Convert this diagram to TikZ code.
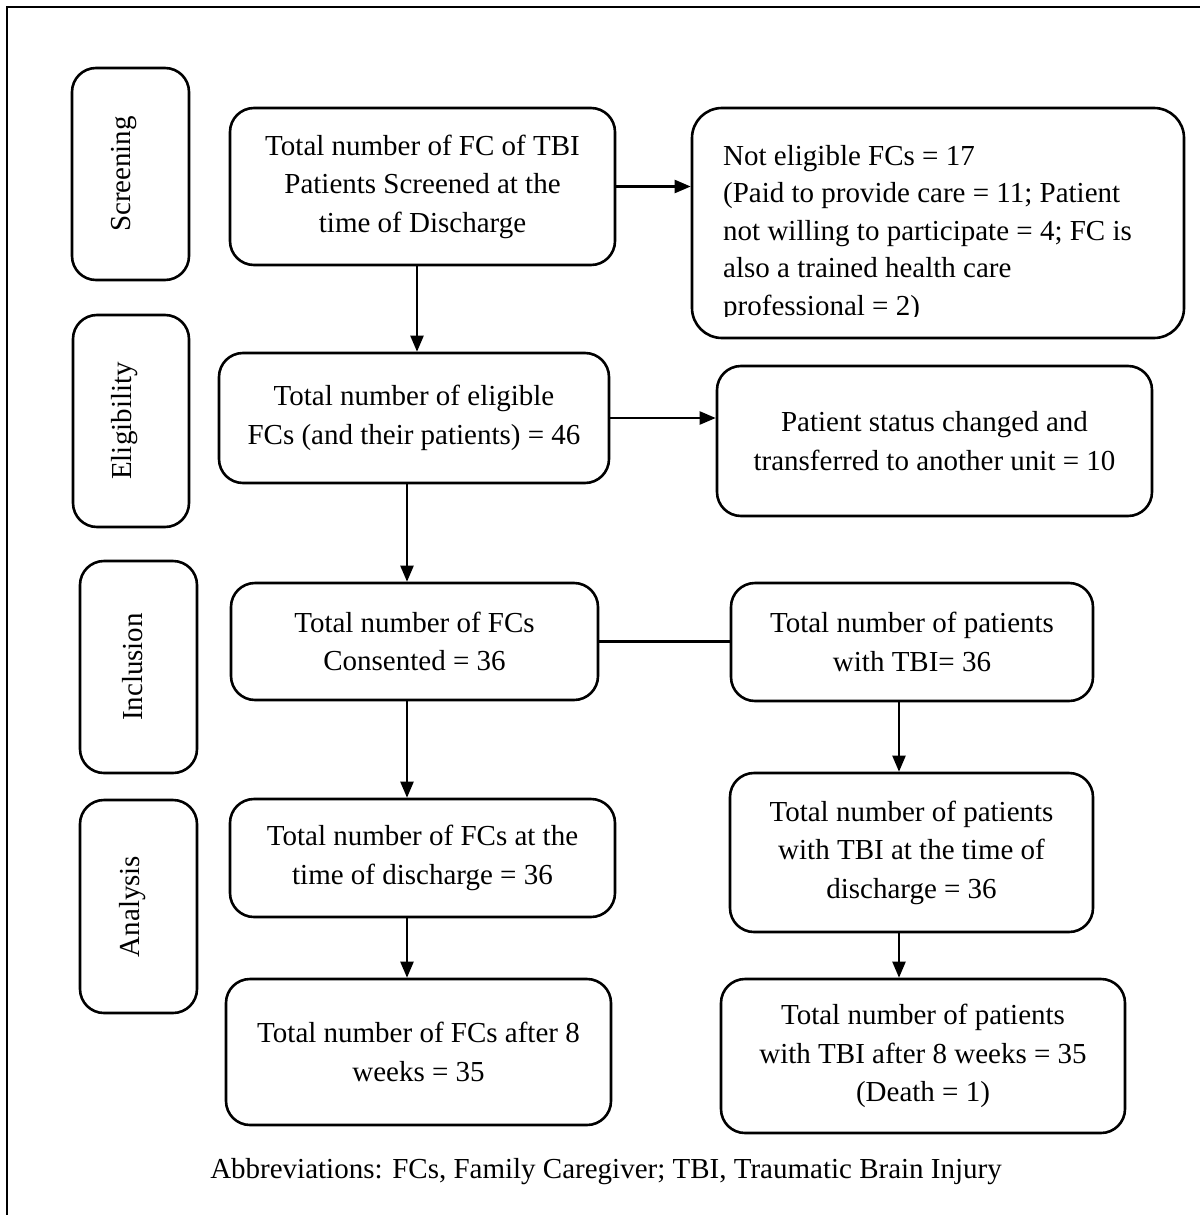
\documentclass[tikz,border=0pt]{standalone}
\usepackage{fontspec}
\setmainfont{Liberation Serif}
\usetikzlibrary{arrows.meta,calc}
\tikzset{
  box/.style={draw, line width=2.6pt, rounded corners=24pt, align=center,
    font=\fontsize{29}{38.5}\selectfont, inner sep=0pt},
  lbl/.style={draw, line width=2.6pt, rounded corners=24pt, inner sep=0pt},
  vtxt/.style={rotate=90, font=\fontsize{29}{34}\selectfont, inner sep=0pt},
  conn/.style={line width=2.2pt, -{Triangle[length=16pt,width=13pt]}},
  plainline/.style={line width=2.2pt},
  txt/.style={font=\fontsize{29}{38.5}\selectfont, inner sep=0pt}
}
\begin{document}
\begin{tikzpicture}[x=1pt,y=-1pt]
\useasboundingbox (0,0) rectangle (1200,1215);
\draw[line width=2.8pt] (7,1215) -- (7,7) -- (1200,7);

% stage labels
\node[lbl, minimum width=117pt, minimum height=212pt] (S) at (130.5,174) {};
\node[vtxt] (St) at ($(S.center)+(-6,0)$) {Screening};
\node[lbl, minimum width=116pt, minimum height=212pt] (El) at (131,421) {};
\node[vtxt] (Elt) at ($(El.center)+(-6,0)$) {Eligibility};
\node[lbl, minimum width=117pt, minimum height=212pt] (In) at (138.5,667) {};
\node[vtxt] (Int) at ($(In.center)+(-6,0)$) {Inclusion};
\node[lbl, minimum width=117pt, minimum height=213pt] (An) at (138.5,906.5) {};
\node[vtxt] (Ant) at ($(An.center)+(-6,0)$) {Analysis};

% boxes
\node[box, minimum width=385pt, minimum height=157pt] (A) at (422.5,186.5)
  {Total number of FC of TBI\\Patients Screened at the\\time of Discharge};
\node[box, rounded corners=30pt, minimum width=492pt, minimum height=230pt] (B) at (938,223) {};
\begin{scope}
  \clip (692,108) rectangle (1184,316);
  \node[txt, align=left, anchor=north west, font=\fontsize{29}{37.5}\selectfont] (Bt) at (723,145)
    {Not eligible FCs = 17\\(Paid to provide care = 11; Patient\\not willing to participate = 4; FC is\\also a trained health care\\professional = 2)};
\end{scope}
\node[box, minimum width=390pt, minimum height=130pt] (C) at (414,418)
  {Total number of eligible\\FCs (and their patients) = 46};
\node[box, minimum width=435pt, minimum height=150pt] (D) at (934.5,441)
  {Patient status changed and\\transferred to another unit = 10};
\node[box, minimum width=367pt, minimum height=117pt] (E) at (414.5,641.5)
  {Total number of FCs\\Consented = 36};
\node[box, minimum width=362pt, minimum height=118pt] (F) at (912,642)
  {Total number of patients\\with TBI= 36};
\node[box, minimum width=385pt, minimum height=118pt] (G) at (422.5,858)
  {Total number of FCs at the\\time of discharge = 36};
\node[box, minimum width=385pt, minimum height=146pt] (H) at (418.5,1052)
  {Total number of FCs after 8\\weeks = 35};
\node[box, minimum width=363pt, minimum height=159pt] (I) at (911.5,852.5)
  {Total number of patients\\with TBI at the time of\\discharge = 36};
\node[box, minimum width=404pt, minimum height=154pt] (J) at (923,1056)
  {Total number of patients\\with TBI after 8 weeks = 35\\(Death = 1)};

% connectors
\draw[conn] (A.east) -- (A.east -| B.west);
\draw[conn] (417,0 |- A.south) -- (417,0 |- C.north);
\draw[conn] (C.east) -- (C.east -| D.west);
\draw[conn] (407,0 |- C.south) -- (407,0 |- E.north);
\draw[plainline] (E.east) -- (E.east -| F.west);
\draw[conn] (407,0 |- E.south) -- (407,0 |- G.north);
\draw[conn] (407,0 |- G.south) -- (407,0 |- H.north);
\draw[conn] (899,0 |- F.south) -- (899,0 |- I.north);
\draw[conn] (899,0 |- I.south) -- (899,0 |- J.north);

\node[txt, anchor=base] (cap) at (606,1178)
  {Abbreviations: FCs, Family Caregiver; TBI, Traumatic Brain Injury};
\end{tikzpicture}
\end{document}
